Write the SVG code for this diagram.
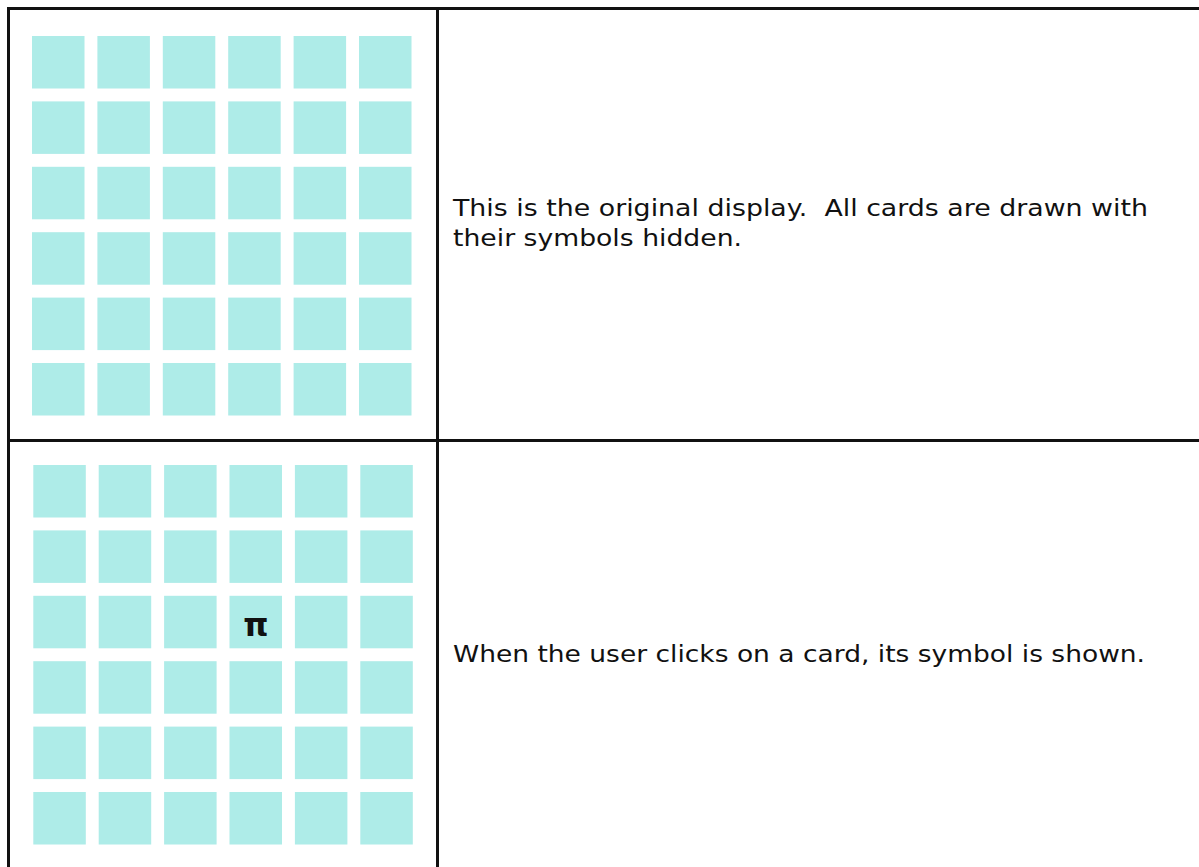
<svg xmlns="http://www.w3.org/2000/svg" width="1199" height="867" viewBox="0 0 1199 867">
<defs>
<style>
.card{fill:#aeece8}
.rule{stroke:#111;stroke-width:3;fill:none}
.t{font-family:"DejaVu Sans","Verdana",sans-serif;font-size:23px;fill:#111;white-space:pre}
.sym{font-family:"DejaVu Sans",sans-serif;font-size:32px;font-weight:bold;fill:#111}
</style>
<rect id="c" class="card" width="52.5" height="52.5"/>
<g id="row">
<use href="#c" x="0"/><use href="#c" x="65.4"/><use href="#c" x="130.8"/><use href="#c" x="196.2"/><use href="#c" x="261.6"/><use href="#c" x="327"/>
</g>
<g id="grid">
<use href="#row" y="0"/><use href="#row" y="65.4"/><use href="#row" y="130.8"/><use href="#row" y="196.2"/><use href="#row" y="261.6"/><use href="#row" y="327"/>
</g>
</defs>
<rect width="1199" height="867" fill="#fff"/>
<g id="table-lines">
<line class="rule" x1="7" y1="8.5" x2="1199" y2="8.5"/>
<line class="rule" x1="8.5" y1="7" x2="8.5" y2="867"/>
<line class="rule" x1="437.5" y1="7" x2="437.5" y2="867"/>
<line class="rule" x1="7" y1="440.5" x2="1199" y2="440.5"/>
</g>
<g id="panel1">
<use href="#grid" x="32" y="36"/>
</g>
<g id="panel2">
<use href="#grid" x="33.3" y="465"/>
<text class="sym" x="255.8" y="636" text-anchor="middle">π</text>
</g>
<g id="text1">
<text class="t" x="453" y="216" textLength="695" lengthAdjust="spacingAndGlyphs">This is the original display.  All cards are drawn with</text>
<text class="t" x="453" y="246" textLength="289" lengthAdjust="spacingAndGlyphs">their symbols hidden.</text>
</g>
<g id="text2">
<text class="t" x="453" y="662" textLength="692" lengthAdjust="spacingAndGlyphs">When the user clicks on a card, its symbol is shown.</text>
</g>
</svg>
